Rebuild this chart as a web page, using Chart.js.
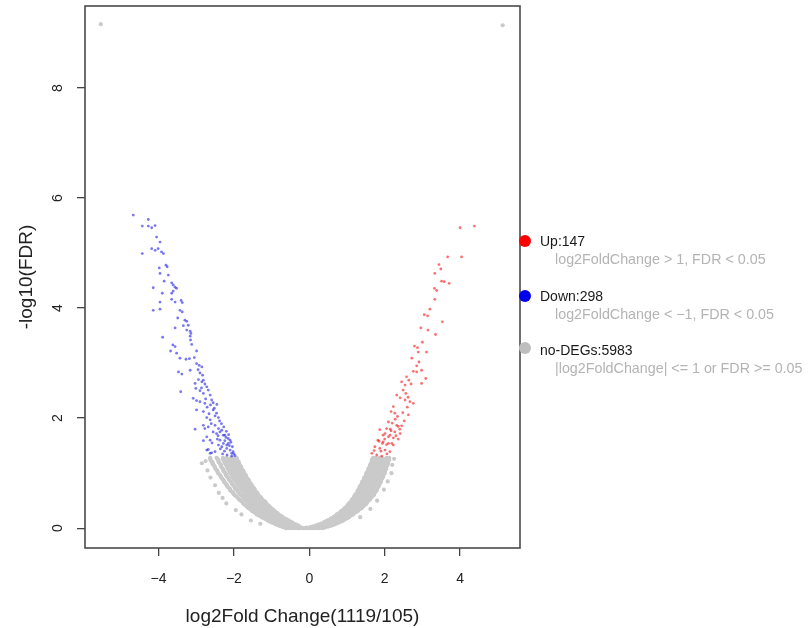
<!DOCTYPE html>
<html>
<head>
<meta charset="utf-8">
<script src="https://cdn.jsdelivr.net/npm/chart.js@4/dist/chart.umd.min.js"></script>
<style>
  html, body { margin: 0; padding: 0; background: #fff; }
  #wrap { position: relative; width: 810px; height: 628px; font-family: "Liberation Sans", Arial, sans-serif; }
  #leg { position: absolute; left: 0; top: 0; }
  .dot { position: absolute; width: 12px; height: 12px; border-radius: 50%; }
  .lab { position: absolute; font-size: 14px; color: #1a1a1a; white-space: nowrap; line-height: 16px; }
  .note { position: absolute; font-size: 14.3px; color: #b4b4b4; white-space: nowrap; line-height: 16px; }
</style>
</head>
<body>
<div id="wrap">
  <canvas id="volcano"></canvas>
  <div id="leg"></div>
</div>
<script>
// axis setup
const xTicks = [-4, -2, 0, 2, 4];
const yTicks = [0, 2, 4, 6, 8];
const xRange = [-5.95, 5.59];
const yRange = [-0.36, 9.49];

// legend
const legendLabels = ['Up:147', 'Down:298', 'no-DEGs:5983'];
const legendNotes = ['log2FoldChange > 1, FDR < 0.05', 'log2FoldChange < \u22121, FDR < 0.05', '|log2FoldChange| <= 1 or FDR >= 0.05'];
const legendColors = ['#ff0000', '#0000ee', '#bebebe'];

// up-regulated (log2FC, -log10 FDR)
const upPoints = [
  [4.00,5.46],[4.38,5.49],[3.67,4.93],[4.04,4.93],[3.44,4.79],[3.49,4.71],[3.33,4.63],[3.51,4.49],[3.58,4.48],[3.71,4.45],
  [3.32,4.36],[3.38,4.32],[3.33,4.16],[3.20,3.98],[3.05,3.88],[3.14,3.86],[3.53,3.75],[2.96,3.64],[3.35,3.52],[3.15,3.60],
  [2.79,3.31],[2.87,3.28],[2.89,3.20],[3.11,3.20],[3.00,3.38],[2.72,3.09],[2.91,3.02],[2.76,2.85],[2.85,2.84],[2.98,2.87],
  [2.85,2.95],[2.58,2.75],[2.64,2.69],[3.09,2.72],[2.70,2.62],[2.45,2.66],[2.54,2.60],[2.49,2.51],[2.98,2.63],[2.56,2.45],
  [2.32,2.42],[2.41,2.37],[2.54,2.33],[2.67,2.30],[2.76,2.27],[2.62,2.38],[2.60,2.20],[2.23,2.21],[2.17,2.12],[2.27,2.09],
  [2.34,2.03],[2.63,2.06],[2.48,2.10],[2.28,1.98],[2.52,1.95],[2.10,1.93],[2.20,1.91],[2.32,1.87],[2.45,1.86],[2.05,1.81],
  [2.17,1.77],[2.27,1.75],[2.41,1.72],[2.40,1.80],[2.15,1.80],[1.96,1.69],[2.10,1.66],[2.23,1.64],[2.36,1.62],[2.30,1.68],
  [1.85,1.58],[1.94,1.54],[2.05,1.52],[2.19,1.54],[2.00,1.62],[2.36,1.85],[1.87,1.79],[2.01,1.72],[2.14,1.69],[1.82,1.60],
  [1.96,1.57],[2.10,1.54],[2.23,1.51],[1.74,1.48],[1.87,1.45],[2.01,1.42],[2.14,1.39],[1.90,1.40],[1.66,1.36],[1.79,1.33],
  [1.92,1.31],[2.06,1.35],[1.72,1.41]
];

// down-regulated
const downPoints = [
  [-4.67,5.69],[-4.27,5.61],[-4.43,5.49],[-4.27,5.49],[-4.18,5.46],[-4.09,5.50],[-4.05,5.29],[-3.96,5.20],[-4.43,4.99],[-4.18,5.08],
  [-4.09,5.05],[-4.01,5.08],[-3.92,5.02],[-3.87,4.99],[-3.80,4.78],[-3.77,4.75],[-3.98,4.73],[-3.96,4.63],[-3.74,4.60],[-3.85,4.49],
  [-3.65,4.46],[-3.61,4.42],[-3.56,4.38],[-3.52,4.36],[-3.61,4.31],[-3.65,4.27],[-4.14,4.37],[-3.90,4.27],[-3.65,4.16],[-3.56,4.11],
  [-3.40,4.14],[-3.37,4.10],[-3.96,4.11],[-4.14,3.96],[-3.96,3.98],[-3.43,3.96],[-3.37,3.93],[-3.49,3.82],[-3.30,3.78],[-3.25,3.76],
  [-3.21,3.69],[-3.34,3.68],[-3.56,3.64],[-3.25,3.60],[-3.16,3.58],[-3.14,3.54],[-3.89,3.47],[-3.16,3.49],[-3.15,3.42],[-3.12,3.34],
  [-3.62,3.33],[-3.56,3.30],[-3.68,3.22],[-3.52,3.18],[-2.99,3.22],[-3.43,3.09],[-3.27,3.07],[-3.18,3.08],[-3.05,3.10],[-2.99,2.99],
  [-2.92,2.96],[-2.85,2.93],[-2.95,2.88],[-3.47,2.84],[-3.38,2.80],[-3.16,2.87],[-2.90,2.82],[-2.83,2.78],[-2.94,2.70],[-2.85,2.66],
  [-2.81,2.69],[-2.77,2.62],[-2.72,2.57],[-2.86,2.55],[-3.03,2.63],[-3.01,2.54],[-3.41,2.48],[-2.90,2.50],[-2.81,2.45],[-2.68,2.51],
  [-2.63,2.42],[-2.75,2.35],[-3.08,2.36],[-2.99,2.32],[-2.90,2.30],[-2.59,2.33],[-2.55,2.28],[-2.62,2.24],[-2.77,2.27],[-2.71,2.20],
  [-2.45,2.25],[-2.52,2.18],[-2.99,2.15],[-2.81,2.12],[-2.55,2.15],[-2.46,2.09],[-2.50,2.04],[-2.41,2.01],[-2.66,2.08],[-2.72,2.01],
  [-2.63,1.97],[-2.38,1.95],[-2.33,1.90],[-2.60,1.90],[-3.03,1.80],[-2.81,1.87],[-2.77,1.81],[-2.68,1.84],[-2.50,1.87],[-2.41,1.81],
  [-2.27,1.84],[-2.37,1.75],[-2.46,1.72],[-2.32,1.78],[-2.20,1.76],[-2.55,1.75],[-2.28,1.69],[-2.21,1.65],[-2.14,1.70],[-2.24,1.59],
  [-2.15,1.54],[-2.10,1.60],[-2.44,1.62],[-2.42,1.68],[-2.72,1.66],[-2.63,1.60],[-2.81,1.59],[-2.58,1.55],[-2.41,1.51],[-2.32,1.48],
  [-2.19,1.45],[-2.10,1.42],[-2.02,1.39],[-2.12,1.50],[-2.04,1.48],[-2.08,1.56],[-2.68,1.43],[-2.59,1.37],[-2.36,1.44],[-2.25,1.40],
  [-2.06,1.31],[-1.97,1.32],[-2.24,1.69],[-2.15,1.63],[-2.37,1.60],[-2.28,1.54],[-2.19,1.51],[-2.06,1.36],[-2.72,1.42],[-2.63,1.36],
  [-2.50,1.39],[-2.30,1.35],[-2.18,1.33],[-2.00,1.35]
];

// not significant: rows of -log10 FDR with the log2FC values seen along each row
const noDegRows = [
  [0.00, [-0.61,-0.52,-0.46,-0.38,-0.30,-0.25,-0.17,-0.11,-0.03,0.05,0.10,0.19,0.26,0.35]],
  [0.01, [-0.64,-0.56,-0.48,-0.42,-0.33,-0.21,-0.07,0.01,0.07,0.15,0.23,0.31,0.40]],
  [0.02, [-0.69,-0.58,-0.51,-0.41,-0.35,-0.26,0.03,0.12,0.18,0.28,0.36,0.44]],
  [0.03, [-0.73,-0.62,-0.54,-0.45,-0.38,-0.30,0.08,0.16,0.25,0.33,0.41,0.50]],
  [0.04, [-0.78,-0.66,-0.58,-0.48,-0.42,-0.34,-0.27,0.13,0.22,0.29,0.38,0.45,0.56]],
  [0.055, [-0.83,-0.72,-0.62,-0.53,-0.46,-0.39,-0.32,0.20,0.30,0.37,0.46,0.53,0.62]],
  [0.07, [-0.89,-0.76,-0.68,-0.57,-0.51,-0.43,-0.36,0.26,0.35,0.41,0.51,0.57,0.68]],
  [0.085, [-0.93,-0.81,-0.71,-0.62,-0.55,-0.48,-0.41,0.32,0.39,0.47,0.55,0.64,0.73]],
  [0.10, [-0.98,-0.87,-0.75,-0.68,-0.58,-0.53,-0.45,0.38,0.43,0.53,0.59,0.70,0.77]],
  [0.115, [-1.03,-0.91,-0.80,-0.71,-0.63,-0.56,-0.49,0.41,0.49,0.56,0.65,0.73,0.82]],
  [0.13, [-1.08,-0.94,-0.85,-0.74,-0.68,-0.59,-0.53,0.45,0.54,0.60,0.70,0.77,0.88]],
  [0.145, [-1.11,-0.99,-0.88,-0.79,-0.71,-0.64,-0.57,0.50,0.58,0.65,0.74,0.82,0.91]],
  [0.16, [-1.14,-1.04,-0.91,-0.83,-0.73,-0.68,-0.60,0.56,0.61,0.71,0.77,0.88,0.94]],
  [0.175, [-1.19,-1.07,-0.96,-0.86,-0.78,-0.71,-0.65,0.58,0.66,0.73,0.82,0.90,0.99]],
  [0.19, [-1.24,-1.09,-1.00,-0.88,-0.82,-0.73,-0.69,0.61,0.70,0.76,0.86,0.92,1.03]],
  [0.205, [-1.27,-1.14,-1.02,-0.93,-0.85,-0.78,-0.72,0.65,0.72,0.80,0.88,0.96,1.06]],
  [0.22, [-1.30,-1.18,-1.04,-0.97,-0.87,-0.82,-0.74,0.69,0.74,0.84,0.90,1.01,1.08]],
  [0.235, [-1.35,-1.21,-1.09,-0.99,-0.91,-0.84,-0.78,0.71,0.78,0.86,0.94,1.03,1.12]],
  [0.25, [-1.39,-1.23,-1.13,-1.01,-0.95,-0.86,-0.82,0.73,0.82,0.88,0.98,1.05,1.16]],
  [0.265, [-1.41,-1.27,-1.15,-1.05,-0.97,-0.90,-0.84,0.77,0.84,0.92,1.00,1.09,1.18]],
  [0.28, [-1.43,-1.31,-1.17,-1.09,-0.99,-0.94,-0.86,0.81,0.86,0.96,1.02,1.13,1.20]],
  [0.295, [-1.47,-1.33,-1.21,-1.11,-1.02,-0.96,-0.90,0.83,0.90,0.98,1.06,1.15,1.24]],
  [0.31, [-1.51,-1.35,-1.25,-1.13,-1.06,-0.97,-0.93,0.85,0.94,1.00,1.10,1.17,1.28]],
  [0.325, [-1.53,-1.39,-1.27,-1.16,-1.08,-1.01,-0.95,0.88,0.95,1.03,1.12,1.21,1.30]],
  [0.34, [-1.55,-1.43,-1.29,-1.20,-1.09,-1.04,-0.96,0.92,0.97,1.07,1.13,1.24,1.32]],
  [0.355, [-1.59,-1.45,-1.32,-1.22,-1.13,-1.06,-1.00,0.93,1.00,1.08,1.17,1.26,1.36]],
  [0.37, [-1.62,-1.46,-1.36,-1.23,-1.16,-1.07,-1.03,0.95,1.04,1.10,1.20,1.27,1.40]],
  [0.385, [-1.64,-1.50,-1.37,-1.27,-1.18,-1.11,-1.05,0.98,1.05,1.13,1.22,1.31,1.41]],
  [0.40, [-1.66,-1.53,-1.39,-1.30,-1.19,-1.14,-1.06,1.01,1.06,1.16,1.23,1.35,1.43]],
  [0.42, [-1.70,-1.55,-1.43,-1.32,-1.23,-1.16,-1.10,1.02,1.10,1.18,1.27,1.37,1.47]],
  [0.44, [-1.74,-1.57,-1.47,-1.34,-1.27,-1.17,-1.13,1.04,1.13,1.19,1.30,1.38,1.51]],
  [0.46, [-1.76,-1.61,-1.48,-1.38,-1.29,-1.21,-1.15,1.07,1.14,1.22,1.31,1.41,1.52]],
  [0.48, [-1.78,-1.65,-1.50,-1.41,-1.30,-1.25,-1.17,1.11,1.16,1.26,1.33,1.45,1.54]],
  [0.50, [-1.82,-1.67,-1.54,-1.43,-1.34,-1.27,-1.21,1.12,1.19,1.27,1.36,1.46,1.57]],
  [0.52, [-1.86,-1.69,-1.58,-1.45,-1.38,-1.29,-1.25,1.13,1.22,1.28,1.39,1.47,1.61]],
  [0.54, [-1.88,-1.72,-1.59,-1.48,-1.39,-1.32,-1.27,1.16,1.23,1.31,1.40,1.51,1.62]],
  [0.56, [-1.90,-1.76,-1.61,-1.52,-1.41,-1.36,-1.28,1.19,1.24,1.34,1.41,1.54,1.64]],
  [0.58, [-1.94,-1.78,-1.65,-1.54,-1.45,-1.38,-1.32,1.20,1.27,1.35,1.44,1.55,1.67]],
  [0.60, [-1.98,-1.80,-1.68,-1.55,-1.48,-1.39,-1.35,1.21,1.30,1.36,1.47,1.56,1.71]],
  [0.62, [-2.00,-1.84,-1.70,-1.59,-1.50,-1.43,-1.37,1.24,1.31,1.39,1.48,1.59,1.72]],
  [0.64, [-2.02,-1.87,-1.71,-1.62,-1.51,-1.46,-1.38,1.27,1.32,1.42,1.49,1.62,1.73]],
  [0.66, [-2.05,-1.89,-1.75,-1.64,-1.55,-1.47,-1.41,1.28,1.35,1.43,1.52,1.63,1.76]],
  [0.68, [-2.09,-1.90,-1.78,-1.65,-1.58,-1.48,-1.44,1.28,1.37,1.43,1.55,1.64,1.78]],
  [0.70, [-2.10,-1.94,-1.80,-1.68,-1.59,-1.51,-1.45,1.31,1.38,1.46,1.56,1.67,1.79]],
  [0.72, [-2.11,-1.97,-1.81,-1.71,-1.60,-1.54,-1.46,1.33,1.38,1.48,1.56,1.69,1.79]],
  [0.74, [-2.15,-1.98,-1.84,-1.72,-1.63,-1.55,-1.49,1.34,1.41,1.49,1.59,1.70,1.82]],
  [0.76, [-2.18,-1.99,-1.87,-1.73,-1.66,-1.56,-1.52,1.34,1.43,1.49,1.61,1.70,1.84]],
  [0.78, [-2.19,-2.02,-1.88,-1.76,-1.67,-1.59,-1.53,1.37,1.44,1.52,1.62,1.73,1.85]],
  [0.80, [-2.20,-2.05,-1.89,-1.79,-1.68,-1.62,-1.54,1.39,1.44,1.54,1.62,1.75,1.85]],
  [0.82, [-2.23,-2.06,-1.92,-1.80,-1.71,-1.63,-1.57,1.40,1.47,1.55,1.65,1.76,1.88]],
  [0.84, [-2.26,-2.07,-1.95,-1.81,-1.74,-1.64,-1.60,1.40,1.49,1.55,1.67,1.76,1.90]],
  [0.86, [-2.27,-2.10,-1.96,-1.84,-1.75,-1.67,-1.61,1.43,1.50,1.58,1.68,1.79,1.90]],
  [0.88, [-2.28,-2.13,-1.97,-1.87,-1.75,-1.69,-1.61,1.45,1.50,1.60,1.68,1.81,1.90]],
  [0.90, [-2.31,-2.14,-2.00,-1.88,-1.78,-1.70,-1.64,1.46,1.53,1.61,1.71,1.82,1.93]],
  [0.92, [-2.34,-2.15,-2.03,-1.89,-1.81,-1.71,-1.67,1.46,1.55,1.61,1.73,1.82,1.95]],
  [0.94, [-2.35,-2.18,-2.04,-1.92,-1.82,-1.74,-1.68,1.49,1.56,1.64,1.74,1.85,1.96]],
  [0.96, [-2.36,-2.21,-2.04,-1.94,-1.82,-1.76,-1.68,1.51,1.56,1.66,1.74,1.87,1.95]],
  [0.98, [-2.39,-2.21,-2.07,-1.95,-1.85,-1.77,-1.71,1.52,1.59,1.67,1.77,1.87,1.98]],
  [1.00, [-2.42,-2.22,-2.10,-1.96,-1.88,-1.78,-1.73,1.51,1.61,1.67,1.79,1.87,2.00]],
  [1.02, [-2.43,-2.25,-2.11,-1.99,-1.89,-1.81,-1.74,1.54,1.61,1.69,1.79,1.90,2.00]],
  [1.04, [-2.44,-2.28,-2.11,-2.01,-1.89,-1.83,-1.75,1.56,1.61,1.71,1.79,1.92,2.00]],
  [1.06, [-2.46,-2.28,-2.14,-2.02,-1.92,-1.84,-1.78,1.57,1.64,1.72,1.82,1.92,2.02]],
  [1.08, [-2.49,-2.29,-2.16,-2.02,-1.94,-1.84,-1.80,1.57,1.66,1.72,1.84,1.92,2.04]],
  [1.10, [-2.50,-2.32,-2.17,-2.05,-1.95,-1.87,-1.81,1.59,1.66,1.74,1.84,1.94,2.04]],
  [1.12, [-2.51,-2.34,-2.17,-2.07,-1.95,-1.89,-1.81,1.61,1.66,1.76,1.84,1.96,2.04]],
  [1.14, [-2.53,-2.35,-2.20,-2.08,-1.98,-1.90,-1.84,1.62,1.69,1.77,1.87,1.97,2.06]],
  [1.16, [-2.56,-2.35,-2.22,-2.08,-2.00,-1.90,-1.86,1.62,1.71,1.77,1.89,1.97,2.08]],
  [1.18, [-2.56,-2.38,-2.23,-2.11,-2.01,-1.93,-1.87,1.64,1.71,1.79,1.89,1.99,2.08]],
  [1.20, [-2.57,-2.40,-2.23,-2.13,-2.01,-1.95,-1.87,1.66,1.71,1.81,1.89,2.01,2.08]],
  [1.22, [-2.60,-2.41,-2.26,-2.14,-2.04,-1.96,-1.90,1.66,1.73,1.81,1.91,2.01,2.10]],
  [1.24, [-2.62,-2.41,-2.28,-2.14,-2.06,-1.96,-1.92,1.66,1.75,1.81,1.93,2.01,2.12]],
  [1.26, [-2.63,-2.44,-2.29,-2.17,-2.07,-1.99,-1.93,1.68,1.75,1.83,1.93,2.03,2.12]],
  [1.28, [-2.63,-2.46,-2.29,-2.19,-2.07,-2.01,-1.93,1.70,1.75,1.85,1.93,2.05,2.12]]
];
const noDegScatter = [
  [-2.75,1.22],[-2.70,1.05],[-2.62,0.92],[-2.50,0.78],[-2.85,1.18],[-2.40,0.64],[-2.30,0.55],[-2.20,0.45],[-1.95,0.33],
  [-1.80,0.25],[-1.55,0.14],[-1.30,0.08],[2.20,1.15],[2.18,1.00],[2.08,0.85],[1.98,0.70],[1.80,0.50],[1.62,0.35],
  [1.35,0.20],[2.25,1.26],[-5.53,9.16],[5.13,9.14]
];

const toXY = arr => arr.map(p => ({ x: p[0], y: p[1] }));
const noDegPoints = [];
noDegRows.forEach(r => r[1].forEach(x => noDegPoints.push({ x: x, y: r[0] })));
noDegScatter.forEach(p => noDegPoints.push({ x: p[0], y: p[1] }));

const fmt = v => (v < 0 ? '\u2212' + Math.abs(v) : String(v));
const tickFont = { family: '"Liberation Sans", Arial, sans-serif', size: 14 };
const titleFont = { family: '"Liberation Sans", Arial, sans-serif', size: 19 };

const boxPlugin = {
  id: 'box',
  afterDraw(chart) {
    const a = chart.chartArea;
    const ctx = chart.ctx;
    ctx.save();
    ctx.strokeStyle = '#4a4a4a';
    ctx.lineWidth = 1.6;
    ctx.strokeRect(a.left, a.top, a.right - a.left, a.bottom - a.top);
    ctx.restore();
  }
};

new Chart(document.getElementById('volcano'), {
  type: 'scatter',
  data: {
    datasets: [
      { label: 'Up', data: toXY(upPoints), backgroundColor: 'rgba(245,20,20,0.6)', pointRadius: 1.4, borderWidth: 0, order: 1 },
      { label: 'Down', data: toXY(downPoints), backgroundColor: 'rgba(30,30,230,0.6)', pointRadius: 1.4, borderWidth: 0, order: 1 },
      { label: 'no-DEGs', data: noDegPoints, backgroundColor: 'rgb(202,202,202)', pointRadius: 2.1, borderWidth: 0, order: 2 }
    ]
  },
  options: {
    responsive: true,
    maintainAspectRatio: false,
    animation: false,
    layout: { padding: { left: 0, right: 290, top: 6, bottom: 0 } },
    plugins: { legend: { display: false }, tooltip: { enabled: false } },
    scales: {
      x: {
        type: 'linear',
        min: xRange[0],
        max: xRange[1],
        afterBuildTicks: s => { s.ticks = xTicks.map(v => ({ value: v })); },
        afterFit: s => { s.height = 80; s.paddingLeft = 0; s.paddingRight = 0; },
        grid: { drawOnChartArea: false, drawTicks: true, tickLength: 8, tickColor: '#444', lineWidth: 1.3 },
        border: { display: false },
        ticks: { font: tickFont, color: '#222', padding: 15, maxRotation: 0, callback: fmt },
        title: { display: true, text: 'log2Fold Change(1119/105)', font: titleFont, color: '#222', padding: { top: 0, bottom: 0 } }
      },
      y: {
        type: 'linear',
        min: yRange[0],
        max: yRange[1],
        afterBuildTicks: s => { s.ticks = yTicks.map(v => ({ value: v })); },
        afterFit: s => { s.width = 85; s.paddingTop = 0; s.paddingBottom = 0; },
        grid: { drawOnChartArea: false, drawTicks: true, tickLength: 8, tickColor: '#444', lineWidth: 1.3 },
        border: { display: false },
        ticks: { font: tickFont, color: '#222', padding: 15, minRotation: 90, maxRotation: 90, crossAlign: 'center', callback: fmt },
        title: { display: true, text: '-log10(FDR)', font: titleFont, color: '#222', padding: { top: 15, bottom: 0 } }
      }
    }
  },
  plugins: [boxPlugin]
});

// legend at the right of the plot box
const leg = document.getElementById('leg');
const legY = [241, 296, 350];
legendLabels.forEach((t, i) => {
  const d = document.createElement('div');
  d.className = 'dot';
  d.style.background = legendColors[i];
  d.style.left = '519px';
  d.style.top = (legY[i] - 6 - (i === 2 ? 2 : 0)) + 'px';
  leg.appendChild(d);
  const l = document.createElement('div');
  l.className = 'lab';
  l.textContent = t;
  l.style.left = '540px';
  l.style.top = (legY[i] - 8) + 'px';
  leg.appendChild(l);
  const n = document.createElement('div');
  n.className = 'note';
  n.textContent = legendNotes[i];
  n.style.left = '555px';
  n.style.top = (legY[i] + 10) + 'px';
  leg.appendChild(n);
});
</script>
</body>
</html>
